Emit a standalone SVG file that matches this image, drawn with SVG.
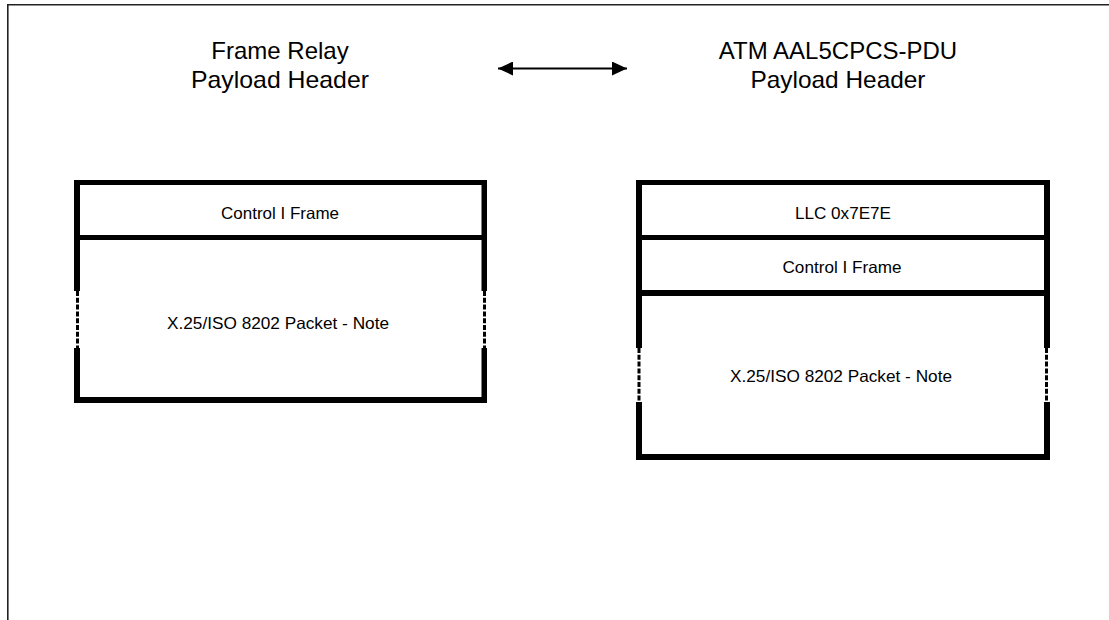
<svg xmlns="http://www.w3.org/2000/svg" width="1109" height="620" viewBox="0 0 1109 620">
  <style>
    .hdr { font-family: "Liberation Sans", Arial, sans-serif; font-size: 24px; fill: #000; text-anchor: middle; }
    .cell { font-family: "Liberation Sans", Arial, sans-serif; font-size: 16.5px; fill: #000; text-anchor: middle; }
    .bar { fill: #000; }
    .dash { stroke: #000; stroke-width: 3; stroke-dasharray: 5 1.8; fill: none; }
    .frame { stroke: #222; stroke-width: 1.6; fill: none; }
    .conn { stroke: #000; stroke-width: 2; fill: none; }
  </style>
  <defs>
    <marker id="ahEnd" markerUnits="userSpaceOnUse" markerWidth="16" markerHeight="14" refX="15" refY="7" orient="auto">
      <path d="M0,0 L15,7 L0,14 Z" fill="#000"/>
    </marker>
    <marker id="ahStart" markerUnits="userSpaceOnUse" markerWidth="16" markerHeight="14" refX="0" refY="7" orient="auto">
      <path d="M15,0 L0,7 L15,14 Z" fill="#000"/>
    </marker>
  </defs>
  <rect x="0" y="0" width="1109" height="620" fill="#fff"/>
  <path class="frame" d="M7.8,620 V4.8 H1109"/>

  <g id="frame-relay-header">
    <text class="hdr" x="280" y="59">Frame Relay</text>
    <text class="hdr" x="280" y="88" textLength="178" lengthAdjust="spacingAndGlyphs">Payload Header</text>
  </g>

  <g id="atm-header">
    <text class="hdr" x="838" y="59">ATM AAL5CPCS-PDU</text>
    <text class="hdr" x="838" y="88" textLength="175" lengthAdjust="spacingAndGlyphs">Payload Header</text>
  </g>

  <g id="connectors">
    <line class="conn" x1="498" y1="68.5" x2="627" y2="68.5" marker-start="url(#ahStart)" marker-end="url(#ahEnd)"/>
  </g>

  <g id="frame-relay-packet">
    <rect class="bar" x="74" y="180" width="413" height="5"/>
    <rect class="bar" x="74" y="235" width="413" height="5"/>
    <rect class="bar" x="74" y="397" width="413" height="6"/>
    <rect class="bar" x="74" y="180" width="6" height="111"/>
    <rect class="bar" x="74" y="348" width="6" height="55"/>
    <rect class="bar" x="481.5" y="180" width="5.5" height="111"/>
    <rect class="bar" x="481.5" y="348" width="5.5" height="55"/>
    <line class="dash" x1="77.5" y1="291" x2="77.5" y2="348"/>
    <line class="dash" x1="484.5" y1="291" x2="484.5" y2="348"/>
    <text class="cell" x="280" y="219" textLength="118" lengthAdjust="spacingAndGlyphs">Control I Frame</text>
    <text class="cell" x="278" y="329" textLength="222" lengthAdjust="spacingAndGlyphs">X.25/ISO 8202 Packet - Note</text>
  </g>

  <g id="atm-packet">
    <rect class="bar" x="636" y="180" width="414" height="5"/>
    <rect class="bar" x="636" y="235" width="414" height="5"/>
    <rect class="bar" x="636" y="290" width="414" height="6"/>
    <rect class="bar" x="636" y="454" width="414" height="6"/>
    <rect class="bar" x="636" y="180" width="6" height="168"/>
    <rect class="bar" x="636" y="402" width="6" height="58"/>
    <rect class="bar" x="1044" y="180" width="6" height="168"/>
    <rect class="bar" x="1044" y="402" width="6" height="58"/>
    <line class="dash" x1="639" y1="348" x2="639" y2="402"/>
    <line class="dash" x1="1046.5" y1="348" x2="1046.5" y2="402"/>
    <text class="cell" x="843" y="219" textLength="96" lengthAdjust="spacingAndGlyphs">LLC 0x7E7E</text>
    <text class="cell" x="842" y="273" textLength="119" lengthAdjust="spacingAndGlyphs">Control I Frame</text>
    <text class="cell" x="841" y="382" textLength="222" lengthAdjust="spacingAndGlyphs">X.25/ISO 8202 Packet - Note</text>
  </g>
</svg>
